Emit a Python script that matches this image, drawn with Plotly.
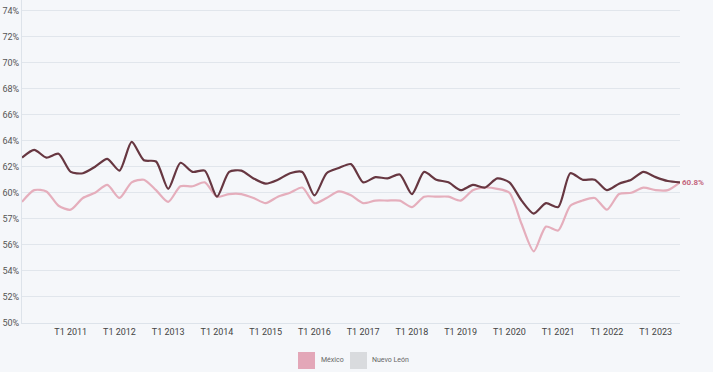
import plotly.graph_objects as go

quarters = [f"T{q} {y}" for y in range(2010, 2024) for q in range(1, 5)][:55]

mexico = [59.3, 60.2, 60.1, 59.0, 58.7, 59.6, 60.0, 60.6, 59.6, 60.8,
          61.0, 60.2, 59.3, 60.5, 60.5, 60.8, 59.7, 59.9, 59.9, 59.6,
          59.2, 59.7, 60.0, 60.4, 59.2, 59.6, 60.1, 59.8, 59.2, 59.4,
          59.4, 59.4, 58.9, 59.7, 59.7, 59.7, 59.4, 60.2, 60.4, 60.3,
          60.0, 57.6, 55.5, 57.4, 57.1, 59.0, 59.4, 59.6, 58.7, 59.9,
          60.0, 60.4, 60.2, 60.2, 60.8]

nuevo_leon = [62.7, 63.3, 62.7, 63.0, 61.6, 61.5, 62.0, 62.6, 61.7, 63.9,
              62.5, 62.4, 60.3, 62.3, 61.6, 61.7, 59.7, 61.6, 61.7, 61.1,
              60.7, 61.0, 61.5, 61.6, 59.8, 61.5, 61.9, 62.2, 60.8, 61.2,
              61.1, 61.4, 59.9, 61.6, 61.0, 60.8, 60.2, 60.6, 60.4, 61.1,
              60.8, 59.4, 58.4, 59.2, 58.9, 61.5, 61.0, 61.0, 60.2, 60.7,
              61.0, 61.6, 61.2, 60.9, 60.8]

y_ticks = [50, 52, 54, 56, 58, 60, 62, 64, 66, 68, 70, 72, 74]
y_tick_text = ["50%", "52%", "54%", "56%", "57%", "60%", "62%", "64%",
               "66%", "68%", "70%", "72%", "74%"]
x_ticks = [f"T1 {y}" for y in range(2011, 2024)]

FONT = "Roboto, sans-serif"
BG = "#f5f7fa"

fig = go.Figure()
fig.add_trace(go.Scatter(
    x=quarters, y=mexico, mode="lines", name="México",
    line=dict(color="#e5aebc", width=2.2, shape="spline", smoothing=0.7),
    showlegend=False, hoverinfo="skip"))
fig.add_trace(go.Scatter(
    x=quarters, y=nuevo_leon, mode="lines", name="Nuevo León",
    line=dict(color="#673741", width=2.2, shape="spline", smoothing=0.7),
    showlegend=False, hoverinfo="skip"))

# end label
fig.add_annotation(x=quarters[-1], y=mexico[-1], text=f"<b>{mexico[-1]:.1f}%</b>",
                   showarrow=False, xanchor="left", xshift=0,
                   font=dict(family=FONT, size=8, color="#c4677f"))

# custom legend
fig.add_shape(type="rect", xref="paper", yref="paper",
              x0=(298 - 22) / 658, x1=(315 - 22) / 658,
              y0=(323 - 369) / 323, y1=(323 - 352) / 323,
              fillcolor="#e3a7b8", line=dict(width=0))
fig.add_annotation(xref="paper", yref="paper", x=(319 - 22) / 658,
                   y=(323 - 360) / 323, text="México", showarrow=False,
                   xanchor="left", yanchor="middle",
                   font=dict(family=FONT, size=7, color="#666"))
fig.add_shape(type="rect", xref="paper", yref="paper",
              x0=(350 - 22) / 658, x1=(367 - 22) / 658,
              y0=(323 - 369) / 323, y1=(323 - 352) / 323,
              fillcolor="#d9dbde", line=dict(width=0))
fig.add_annotation(xref="paper", yref="paper", x=(370 - 22) / 658,
                   y=(323 - 360) / 323, text="Nuevo León", showarrow=False,
                   xanchor="left", yanchor="middle",
                   font=dict(family=FONT, size=7, color="#666"))

fig.update_layout(
    width=713, height=372,
    margin=dict(l=22, r=33, t=0, b=49),
    paper_bgcolor=BG, plot_bgcolor=BG,
    font=dict(family=FONT, size=9, color="#555"),
    showlegend=False,
)
fig.update_xaxes(
    type="category", range=[0, 54],
    tickvals=x_ticks, ticktext=x_ticks,
    showgrid=False, showline=True, linecolor="#dde3ea", linewidth=1,
    mirror=True, ticks="", tickfont=dict(size=9, color="#444"),
    automargin=False, zeroline=False,
)
fig.update_yaxes(
    range=[50, 74.8], tickvals=y_ticks, ticktext=y_tick_text,
    showgrid=True, gridcolor="#e1e6ec", gridwidth=1,
    showline=True, linecolor="#dde3ea", linewidth=1,
    ticks="", tickfont=dict(size=9, color="#555"),
    automargin=False, zeroline=False,
)

fig.write_html("out.html", config={"displayModeBar": False},
               post_script="document.body.style.margin='0';document.body.style.background='" + BG + "';")
